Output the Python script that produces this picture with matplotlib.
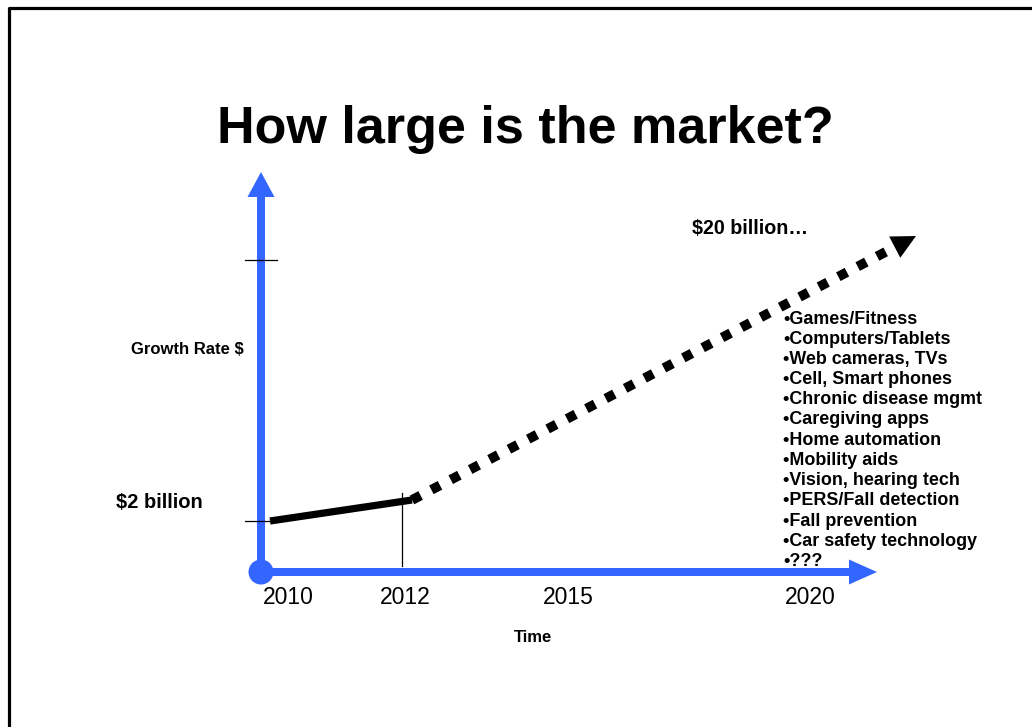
import matplotlib.pyplot as plt
import numpy as np
from matplotlib.patches import FancyArrow, Circle, Polygon

# chart content
title = "How large is the market?"
years = ["2010", "2012", "2015", "2020"]
start_label = "$2 billion"
end_label = "$20 billion…"
y_label = "Growth Rate $"
x_label = "Time"
segments = ["Games/Fitness", "Computers/Tablets", "Web cameras, TVs",
            "Cell, Smart phones", "Chronic disease mgmt", "Caregiving apps",
            "Home automation", "Mobility aids", "Vision, hearing tech",
            "PERS/Fall detection", "Fall prevention", "Car safety technology",
            "???"]

blue = "#3366ff"
font = "Liberation Sans"

# sketch layout (pixel frame of the slide)
origin = (261, 572)
year_x = [288, 405, 568, 810]
known = [(270, 521), (412, 500)]      # 2010 -> 2012 actual
forecast_tip = (916, 236)             # 2020 projection

fig = plt.figure(figsize=(10.32, 7.27), dpi=100)
ax = fig.add_axes([0, 0, 1, 1])
ax.set_xlim(0, 1032)
ax.set_ylim(727, 0)
ax.axis("off")

# slide border (cropped on right/bottom)
ax.plot([9, 9, 1040], [740, 8, 8], color="black", lw=2.3, solid_capstyle="butt")

ax.text(525, 130, title, ha="center", va="center", fontsize=37.5,
        fontweight="bold", family=font)

# axes arrows
ax.add_patch(FancyArrow(origin[0], origin[1], 0, 172 - origin[1], width=8,
                        head_width=27, head_length=25, length_includes_head=True,
                        color=blue, lw=0))
ax.add_patch(FancyArrow(origin[0], origin[1], 877 - origin[0], 0, width=8,
                        head_width=25, head_length=28, length_includes_head=True,
                        color=blue, lw=0))
ax.add_patch(Circle(origin, 12.5, color=blue, lw=0))

# thin guide ticks
ax.plot([245, 277], [260, 260], color="black", lw=0.9)
ax.plot([245, 270], [521, 521], color="black", lw=0.9)
ax.plot([402, 402], [493, 566], color="black", lw=0.9)

# actual growth
ax.plot([known[0][0], known[1][0]], [known[0][1], known[1][1]], color="black",
        lw=5.2, solid_capstyle="butt")

# forecast dashed line with arrow head
p0 = np.array(known[1], float)
tip = np.array(forecast_tip, float)
u = (tip - p0) / np.linalg.norm(tip - p0)
n = np.array([-u[1], u[0]])
head_len, head_w = 24, 24
base = tip - u * head_len
end = base + u * 2
ax.plot([p0[0], end[0]], [p0[1], end[1]], color="black", lw=7,
        linestyle=(0, (1.0, 1.25)), dash_capstyle="butt")
ax.add_patch(Polygon([tip, base + n * head_w / 2, base - n * head_w / 2],
                     closed=True, color="black", lw=0))

# labels
ax.text(116, 502, start_label, ha="left", va="center", fontsize=14.5,
        fontweight="bold", family=font)
ax.text(692, 229, end_label, ha="left", va="center", fontsize=14.2,
        fontweight="bold", family=font)
ax.text(131, 350, y_label, ha="left", va="center", fontsize=12,
        fontweight="bold", family=font)
ax.text(533, 638, x_label, ha="center", va="center", fontsize=12,
        fontweight="bold", family=font)
for x, yr in zip(year_x, years):
    ax.text(x, 598, yr, ha="center", va="center", fontsize=16.5, family=font)

for i, s in enumerate(segments):
    ax.text(783, 319 + i * 20.2, "•" + s, ha="left", va="center",
            fontsize=12.9, fontweight="bold", family=font)

fig.savefig("out.png", dpi=100)
